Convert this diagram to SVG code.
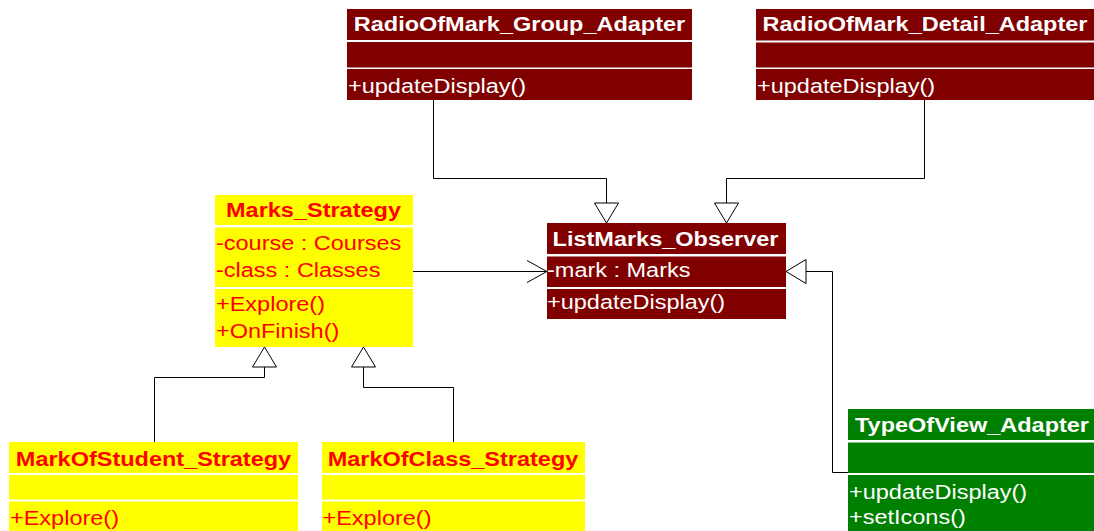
<svg xmlns="http://www.w3.org/2000/svg" width="1094" height="531" viewBox="0 0 1094 531">
  <style>
    text { font-family: "Liberation Sans", Arial, sans-serif; font-size: 21px; }
    .t { font-weight: bold; text-anchor: middle; }
    .w { fill: #ffffff; }
    .r { fill: #ff0000; }
    .red { fill: #800000; }
    .yel { fill: #ffff00; }
    .grn { fill: #008000; }
    .ln { fill: none; stroke: #000000; stroke-width: 1; }
  </style>
  <defs>
    <marker id="tri" viewBox="-1 -1 22 26" refX="20" refY="12" markerWidth="22" markerHeight="26" markerUnits="userSpaceOnUse" orient="auto">
      <path d="M0,0 L20,12 L0,24 Z" fill="#ffffff" stroke="#000000" stroke-width="1"/>
    </marker>
    <marker id="open" viewBox="-1 -1 22 24" refX="20" refY="11" markerWidth="22" markerHeight="24" markerUnits="userSpaceOnUse" orient="auto">
      <path d="M0,0 L20,11 L0,22" fill="none" stroke="#000000" stroke-width="1"/>
    </marker>
  </defs>
  <rect width="1094" height="531" fill="#ffffff"/>

  <g id="connectors">
    <path class="ln" d="M433.5,100 V178.5 H606.5 V223" marker-end="url(#tri)"/>
    <path class="ln" d="M924.5,100 V178.5 H726.5 V223" marker-end="url(#tri)"/>
    <path class="ln" d="M413,271.5 H547" marker-end="url(#open)"/>
    <path class="ln" d="M848,472.5 H832.5 V271.5 H786" marker-end="url(#tri)"/>
    <path class="ln" d="M154.5,442 V377.5 H264.5 V347" marker-end="url(#tri)"/>
    <path class="ln" d="M453.5,442 V387.5 H363.5 V347" marker-end="url(#tri)"/>
  </g>

  <g id="RadioOfMark_Group_Adapter">
    <rect class="red" x="347" y="9" width="345" height="31"/>
    <rect class="red" x="347" y="42" width="345" height="25.5"/>
    <rect class="red" x="347" y="69" width="345" height="31"/>
    <text class="t w" transform="translate(519.5,31) scale(1.119,1)">RadioOfMark_Group_Adapter</text>
    <text class="w" transform="translate(348,92.5) scale(1.119,1)">+updateDisplay()</text>
  </g>

  <g id="RadioOfMark_Detail_Adapter">
    <rect class="red" x="756" y="9" width="338" height="31.5"/>
    <rect class="red" x="756" y="42.5" width="338" height="25"/>
    <rect class="red" x="756" y="69" width="338" height="31"/>
    <text class="t w" transform="translate(925,31) scale(1.119,1)">RadioOfMark_Detail_Adapter</text>
    <text class="w" transform="translate(757,92.5) scale(1.119,1)">+updateDisplay()</text>
  </g>

  <g id="Marks_Strategy">
    <rect class="yel" x="215" y="195" width="198" height="30"/>
    <rect class="yel" x="215" y="227.5" width="198" height="59.5"/>
    <rect class="yel" x="215" y="289" width="198" height="58"/>
    <text class="t r" transform="translate(313.5,217) scale(1.119,1)">Marks_Strategy</text>
    <text class="r" transform="translate(216,249.5) scale(1.119,1)">-course : Courses</text>
    <text class="r" transform="translate(216,276.5) scale(1.119,1)">-class : Classes</text>
    <text class="r" transform="translate(216,310.5) scale(1.119,1)">+Explore()</text>
    <text class="r" transform="translate(216,337.5) scale(1.119,1)">+OnFinish()</text>
  </g>

  <g id="ListMarks_Observer">
    <rect class="red" x="547" y="223" width="239" height="31"/>
    <rect class="red" x="547" y="256.5" width="239" height="30.5"/>
    <rect class="red" x="547" y="289" width="239" height="30"/>
    <text class="t w" transform="translate(665.5,246) scale(1.119,1)">ListMarks_Observer</text>
    <text class="w" transform="translate(547,277) scale(1.119,1)">-mark : Marks</text>
    <text class="w" transform="translate(547,308.5) scale(1.119,1)">+updateDisplay()</text>
  </g>

  <g id="TypeOfView_Adapter">
    <rect class="grn" x="848" y="409" width="246" height="31"/>
    <rect class="grn" x="848" y="442.5" width="246" height="30.5"/>
    <rect class="grn" x="848" y="475" width="246" height="56"/>
    <text class="t w" transform="translate(972,432) scale(1.119,1)">TypeOfView_Adapter</text>
    <text class="w" transform="translate(849,499) scale(1.119,1)">+updateDisplay()</text>
    <text class="w" transform="translate(849,524) scale(1.119,1)">+setIcons()</text>
  </g>

  <g id="MarkOfStudent_Strategy">
    <rect class="yel" x="9" y="442" width="289" height="31"/>
    <rect class="yel" x="9" y="475" width="289" height="24.5"/>
    <rect class="yel" x="9" y="501.5" width="289" height="29.5"/>
    <text class="t r" transform="translate(153.5,466) scale(1.119,1)">MarkOfStudent_Strategy</text>
    <text class="r" transform="translate(10,525) scale(1.119,1)">+Explore()</text>
  </g>

  <g id="MarkOfClass_Strategy">
    <rect class="yel" x="322" y="442" width="263" height="31"/>
    <rect class="yel" x="322" y="475" width="263" height="24.5"/>
    <rect class="yel" x="322" y="501.5" width="263" height="29.5"/>
    <text class="t r" transform="translate(453,466) scale(1.119,1)">MarkOfClass_Strategy</text>
    <text class="r" transform="translate(322.5,525) scale(1.119,1)">+Explore()</text>
  </g>
</svg>
